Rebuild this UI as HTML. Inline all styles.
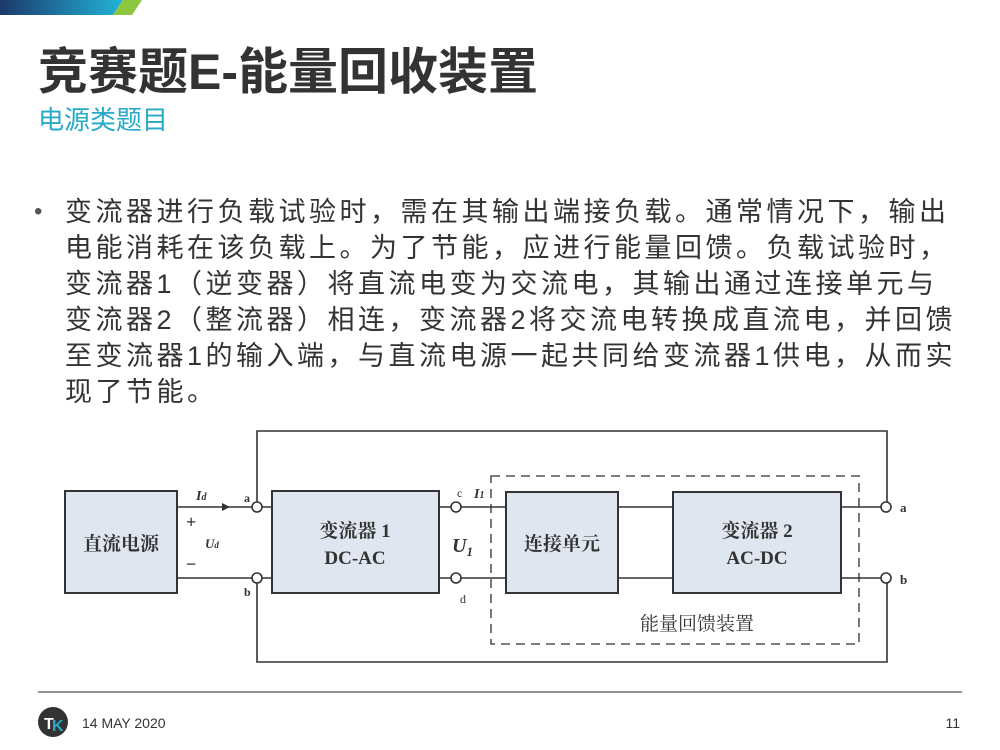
<!DOCTYPE html>
<html><head><meta charset="utf-8"><style>
body{margin:0;width:1000px;height:750px;background:#fff;position:relative;overflow:hidden;font-family:"Liberation Sans","Noto Sans CJK SC",sans-serif}
.t{position:absolute;left:38px;top:32px;font-size:50px;color:#333;font-weight:bold;white-space:nowrap}
.s{position:absolute;left:38px;top:100px;font-size:26px;color:#27a9c9;white-space:nowrap}
.p{position:absolute;left:65px;top:194px;font-size:27px;line-height:36px;color:#333;white-space:nowrap;letter-spacing:3.5px}
.b{position:absolute;left:34px;top:194px;font-size:24px;line-height:36px;color:#555}
</style></head><body>
<svg width="1000" height="750" style="position:absolute;left:0;top:0">
<defs><linearGradient id="g" x1="0" x2="1"><stop offset="0" stop-color="#1b3a6b"/><stop offset="1" stop-color="#22b3d8"/></linearGradient></defs>
<polygon points="0,0 123,0 113,15 0,15" fill="url(#g)"/>
<polygon points="123,0 142,0 132,15 113,15" fill="#8cc63f"/>
<g stroke="#333" stroke-width="1.6" fill="none">
<rect x="65" y="491" width="112" height="102" fill="#dfe6f0" stroke-width="2"/>
<rect x="272" y="491" width="167" height="102" fill="#dfe6f0" stroke-width="2"/>
<rect x="506" y="492" width="112" height="101" fill="#dfe6f0" stroke-width="2"/>
<rect x="673" y="492" width="168" height="101" fill="#dfe6f0" stroke-width="2"/>
<rect x="491" y="476" width="368" height="168" stroke-dasharray="9,6" stroke="#555"/>
<path d="M177 507H252M262 507H272M177 578H252M262 578H272"/>
<path d="M257 502V431H887V502M257 583V662H887V583"/>
<path d="M439 507H451M461 507H506M439 578H451M461 578H506M618 507H673M618 578H673M841 507H881M841 578H881"/>
<circle cx="257" cy="507" r="5" fill="#fff"/><circle cx="257" cy="578" r="5" fill="#fff"/>
<circle cx="456" cy="507" r="5" fill="#fff"/><circle cx="456" cy="578" r="5" fill="#fff"/>
<circle cx="886" cy="507" r="5" fill="#fff"/><circle cx="886" cy="578" r="5" fill="#fff"/>
</g>
<polygon points="222,503 222,511 230,507" fill="#333"/>
<g font-family="Liberation Serif,Noto Serif CJK SC,serif" fill="#333" font-weight="bold">
<text x="121" y="550" font-size="19" text-anchor="middle">直流电源</text>
<text x="355" y="537" font-size="19" text-anchor="middle">变流器 1</text>
<text x="355" y="564" font-size="19" text-anchor="middle">DC-AC</text>
<text x="562" y="550" font-size="19" text-anchor="middle">连接单元</text>
<text x="757" y="537" font-size="19" text-anchor="middle">变流器 2</text>
<text x="757" y="564" font-size="19" text-anchor="middle">AC-DC</text>
<text x="697" y="630" font-size="19" text-anchor="middle" font-weight="normal">能量回馈装置</text>
<text x="196" y="500" font-size="14" font-style="italic">I<tspan font-size="10">d</tspan></text>
<text x="186" y="528" font-size="18">+</text>
<text x="186" y="570" font-size="18">−</text>
<text x="205" y="548" font-size="13" font-style="italic">U<tspan font-size="9">d</tspan></text>
<text x="244" y="502" font-size="12">a</text>
<text x="244" y="596" font-size="12">b</text>
<text x="457" y="497" font-size="12" font-weight="normal">c</text>
<text x="474" y="498" font-size="14" font-style="italic">I<tspan font-size="10">1</tspan></text>
<text x="452" y="552" font-size="20" font-style="italic">U<tspan font-size="13" dy="4">1</tspan></text>
<text x="460" y="603" font-size="12" font-weight="normal">d</text>
<text x="900" y="512" font-size="13">a</text>
<text x="900" y="584" font-size="13">b</text>
</g>
<line x1="38" y1="692" x2="962" y2="692" stroke="#555" stroke-width="1.2"/>
<circle cx="53" cy="722" r="15" fill="#333"/>
<text x="44" y="729" font-size="16" font-weight="bold" fill="#fff" font-family="Liberation Sans">T</text>
<text x="52" y="731" font-size="16" font-weight="bold" fill="#27a9c9" font-family="Liberation Sans">K</text>
<text x="82" y="728" font-size="14" fill="#333" font-family="Liberation Sans">14 MAY 2020</text>
<text x="960" y="728" font-size="14" fill="#333" text-anchor="end" font-family="Liberation Sans">11</text>
</svg>
<div class="t">竞赛题E-能量回收装置</div>
<div class="s">电源类题目</div>
<div class="b">•</div>
<div class="p">变流器进行负载试验时，需在其输出端接负载。通常情况下，输出<br>电能消耗在该负载上。为了节能，应进行能量回馈。负载试验时，<br>变流器1（逆变器）将直流电变为交流电，其输出通过连接单元与<br>变流器2（整流器）相连，变流器2将交流电转换成直流电，并回馈<br>至变流器1的输入端，与直流电源一起共同给变流器1供电，从而实<br>现了节能。</div>
</body></html>
